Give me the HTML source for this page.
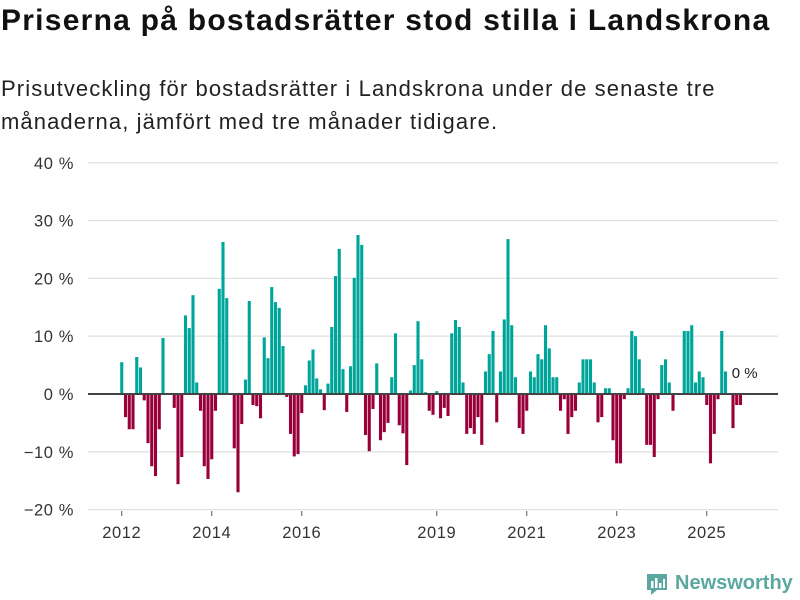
<!DOCTYPE html>
<html><head><meta charset="utf-8">
<style>
body{margin:0;width:800px;height:600px;background:#fff;font-family:"Liberation Sans",sans-serif;overflow:hidden;position:relative}
h1{position:absolute;left:1px;top:4px;margin:0;font-size:30px;font-weight:bold;color:#111;letter-spacing:1.25px;white-space:nowrap}
p{position:absolute;left:1px;top:72px;margin:0;font-size:22px;line-height:33px;color:#222;letter-spacing:1.1px;white-space:nowrap}
svg{position:absolute;left:0;top:0}
</style></head><body>
<h1>Priserna på bostadsrätter stod stilla i Landskrona</h1>
<p>Prisutveckling för bostadsrätter i Landskrona under de senaste tre<br>månaderna, jämfört med tre månader tidigare.</p>
<svg id="chart" width="800" height="600"></svg>
<script>
const values = [5.5,-4.0,-6.1,-6.1,6.4,4.6,-1.1,-8.5,-12.5,-14.2,-6.1,9.7,0,0,-2.4,-15.6,-10.9,13.6,11.4,17.1,2.0,-2.9,-12.5,-14.7,-11.3,-2.9,18.2,26.3,16.6,0,-9.4,-17.0,-5.2,2.5,16.1,-1.9,-2.1,-4.2,9.8,6.2,18.5,15.9,14.9,8.3,-0.5,-6.9,-10.8,-10.4,-3.3,1.5,5.8,7.7,2.7,0.8,-2.8,1.8,11.6,20.4,25.1,4.3,-3.1,4.8,20.1,27.5,25.8,-7.1,-9.9,-2.6,5.3,-8.0,-6.6,-5.0,2.9,10.5,-5.4,-6.8,-12.3,0.6,5.0,12.6,6.0,0.3,-2.9,-3.6,0.5,-4.2,-2.4,-3.8,10.5,12.8,11.6,2.0,-6.9,-5.9,-6.9,-4.0,-8.8,3.9,6.9,10.9,-4.9,3.9,12.9,26.8,11.9,2.9,-5.9,-6.9,-2.9,3.9,2.9,6.9,6.0,11.9,7.9,2.9,2.9,-2.9,-0.9,-6.9,-4.0,-2.9,2.0,6.0,6.0,6.0,2.0,-4.9,-4.0,1.0,1.0,-8.0,-12.0,-12.0,-0.9,1.0,10.9,10.0,6.0,1.0,-8.8,-8.8,-10.9,-0.9,5.0,6.0,2.0,-2.9,0,0,10.9,10.9,11.9,2.0,3.9,2.9,-1.9,-12.0,-6.9,-0.9,10.9,3.9,0,-5.9,-1.9,-1.9];
const startYear = 2012;
const yTicks = [40,30,20,10,0,-10,-20];
const xTickYears = [2012,2014,2016,2019,2021,2023,2025];
const latestLabel = "0 %";

const svg = document.getElementById('chart');
const NS = 'http://www.w3.org/2000/svg';
const x0 = 120.2, pitch = 3.75, barW = 3.1;
const xScale = i => x0 + i * pitch;
const yScale = v => 394 - v * 5.78;
function mk(tag, attrs){const e=document.createElementNS(NS,tag);for(const k in attrs)e.setAttribute(k,attrs[k]);svg.appendChild(e);return e;}

yTicks.forEach(t=>{
  if(t!==0){
    const g = mk('line',{x1:88,x2:778,y1:yScale(t),y2:yScale(t),stroke:'#e2e2e2','stroke-width':1.3});
    
    
  }
  const lb = mk('text',{x:74,y:yScale(t)+6,'text-anchor':'end','font-size':16.5,fill:'#333','letter-spacing':0.6,'font-family':'Liberation Sans, sans-serif'});
  lb.textContent = (t<0?'\u2212'+(-t):t)+' %';
  
  
});

values.forEach((v,i)=>{
  if(v===0) return;
  const y1 = yScale(Math.max(v,0)), y2 = yScale(Math.min(v,0));
  const r = mk('rect',{x:xScale(i),y:y1,width:barW,height:y2-y1,fill:v>0?'#00a59a':'#990039'});
  
  
});

const zl = mk('line',{x1:88,x2:778,y1:yScale(0),y2:yScale(0),stroke:'#444','stroke-width':2});



xTickYears.forEach(yr=>{
  const x = xScale((yr-startYear)*12)+barW/2;
  const tk = mk('line',{x1:x,x2:x,y1:511,y2:516,stroke:'#555','stroke-width':1});
  
  
  const lb = mk('text',{x:x,y:538,'text-anchor':'middle','font-size':16.5,fill:'#333','letter-spacing':0.6,'font-family':'Liberation Sans, sans-serif'});
  lb.textContent = yr;
  
  
});

const ll = mk('text',{x:xScale(162)+4,y:378,'font-size':15,fill:'#222','font-family':'Liberation Sans, sans-serif'});
ll.textContent = latestLabel;


</script>
<div style="position:absolute;left:645px;top:570px;display:flex;align-items:center">
  <svg width="24" height="26" viewBox="0 0 24 26" style="position:static">
    <path d="M2 4 L22 4 L22 20 L12 20 L6 25 L6 20 L2 20 Z" fill="#5aa89f"/>
    <rect x="6" y="11" width="2.5" height="7" fill="#fff"/><rect x="10" y="8" width="2.5" height="10" fill="#fff"/><rect x="14" y="13" width="2.5" height="5" fill="#fff"/><rect x="18" y="9" width="2" height="9" fill="#fff"/>
  </svg>
  <span style="font-size:20px;font-weight:bold;color:#5aa89f;margin-left:6px">Newsworthy</span>
</div>
</body></html>
